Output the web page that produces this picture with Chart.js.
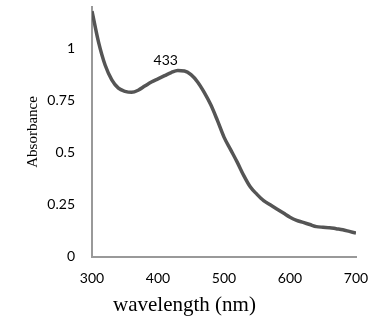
<!DOCTYPE html>
<html lang="en">
<head>
  <meta charset="UTF-8">
  <title>Absorbance spectrum</title>
  <script src="https://cdn.jsdelivr.net/npm/chart.js"></script>
  <style>
    body { margin: 0; background: #ffffff; }
    #chart-container { width: 379px; height: 331px; position: relative; }
  </style>
</head>
<body>
<div id="chart-container">
  <canvas id="spectrum"></canvas>
</div>
<script>
  // wavelength (nm) and absorbance
  const wavelengths = [300, 310, 320, 330, 340, 350, 360, 370, 380, 390,
                       400, 410, 420, 430, 440, 450, 460, 470, 480, 490,
                       500, 510, 520, 530, 540, 550, 560, 570, 580, 590,
                       600, 610, 620, 630, 640, 650, 660, 670, 680, 690, 700];
  const absorbance = [1.18, 1.03, 0.92, 0.85, 0.81, 0.795, 0.79, 0.80, 0.82, 0.84,
                      0.855, 0.87, 0.885, 0.895, 0.893, 0.875, 0.84, 0.79, 0.73, 0.655,
                      0.575, 0.515, 0.455, 0.39, 0.335, 0.30, 0.27, 0.25, 0.23, 0.21,
                      0.19, 0.175, 0.165, 0.155, 0.145, 0.142, 0.14, 0.135, 0.13, 0.122, 0.114];
  const xTicks = [300, 400, 500, 600, 700];
  const yTicks = [0, 0.25, 0.5, 0.75, 1];
  const peakWavelength = 433;
  const peakAbsorbance = 0.895;

  // writes the peak wavelength next to the maximum
  const peakLabel = {
    id: 'peakLabel',
    afterDatasetsDraw(chart) {
      const ctx = chart.ctx;
      const x = chart.scales.x.getPixelForValue(peakWavelength);
      const y = chart.scales.y.getPixelForValue(peakAbsorbance);
      ctx.save();
      ctx.font = '14px Lato, sans-serif';
      ctx.fillStyle = '#000000';
      ctx.textAlign = 'center';
      ctx.textBaseline = 'middle';
      ctx.fillText(String(peakWavelength), x - 14, y - 10);
      ctx.restore();
    }
  };

  const ctx = document.getElementById('spectrum').getContext('2d');
  new Chart(ctx, {
    type: 'line',
    data: {
      datasets: [{
        label: 'Absorbance',
        data: wavelengths.map((w, i) => ({ x: w, y: absorbance[i] })),
        borderColor: '#555555',
        borderWidth: 3.5,
        pointRadius: 0,
        fill: false,
        tension: 0.4,
        cubicInterpolationMode: 'monotone'
      }]
    },
    options: {
      responsive: true,
      maintainAspectRatio: false,
      animation: false,
      layout: { padding: { top: 7, right: 10, left: 0, bottom: 0 } },
      plugins: {
        legend: { display: false },
        tooltip: { enabled: false },
        title: {
          display: true,
          text: 'wavelength (nm)',
          position: 'bottom',
          color: '#000000',
          font: { family: '"Liberation Serif", serif', size: 21, weight: 'normal' },
          padding: { top: 0, bottom: 13 }
        }
      },
      scales: {
        x: {
          type: 'linear',
          min: 300,
          max: 700,
          afterBuildTicks: s => { s.ticks = xTicks.map(v => ({ value: v })); },
          afterFit: s => { s.height = 36; s.paddingLeft = 0; s.paddingRight = 23; },
          grid: { display: false, drawTicks: false },
          border: { display: true, color: '#999999', width: 2 },
          ticks: {
            padding: 13,
            color: '#000000',
            maxRotation: 0,
            font: { family: 'Lato, sans-serif', size: 14 }
          }
        },
        y: {
          min: 0,
          max: 1.2,
          afterBuildTicks: s => { s.ticks = yTicks.map(v => ({ value: v })); },
          afterFit: s => { s.width = 92; s.paddingTop = 0; s.paddingBottom = 0; },
          grid: { display: false, drawTicks: false },
          border: { display: true, color: '#999999', width: 2 },
          ticks: {
            padding: 17,
            color: '#000000',
            font: { family: 'Lato, sans-serif', size: 14 },
            callback: v => String(v)
          },
          title: {
            display: true,
            text: 'Absorbance',
            color: '#000000',
            font: { family: '"Liberation Serif", serif', size: 15, weight: 'normal' },
            padding: { top: 24, bottom: 0 }
          }
        }
      }
    },
    plugins: [peakLabel]
  });
</script>
</body>
</html>
